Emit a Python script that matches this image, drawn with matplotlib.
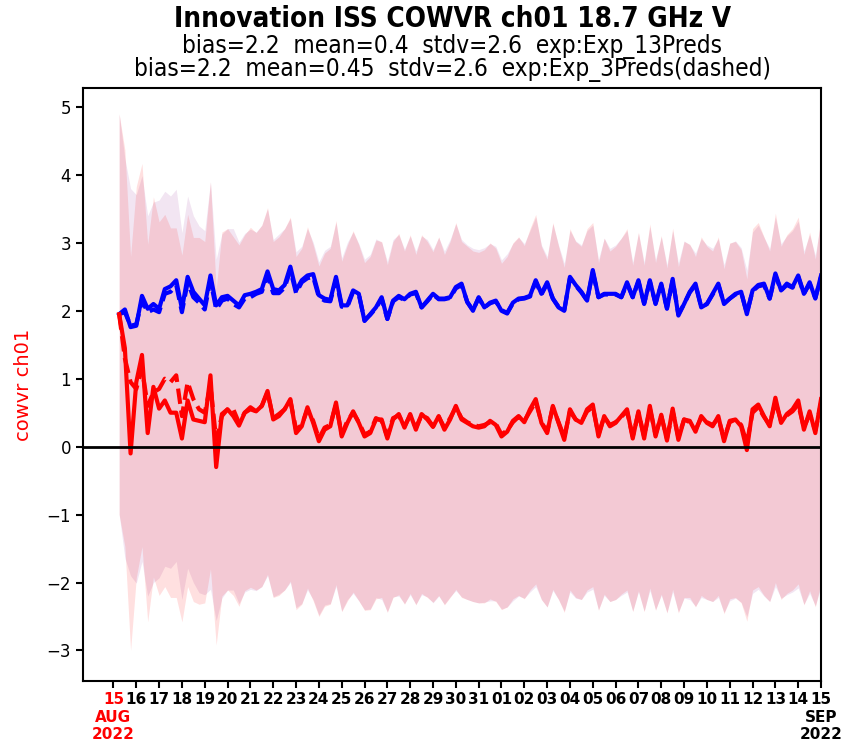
import numpy as np
import pandas as pd
import matplotlib
matplotlib.use('Agg')
import matplotlib.pyplot as plt

# 6-hourly innovation statistics, 15 Aug 06Z -> 15 Sep 00Z
times = pd.date_range('2022-08-15 06:00', '2022-09-15 00:00', freq='6h')

# bias (no bias correction), exp 13Preds
bias_13 = [1.95, 2.02, 1.76, 1.78, 2.22, 2.03, 2.10, 2.03, 2.32, 2.36,
           2.45, 2.03, 2.50, 2.28, 2.18, 2.08, 2.52, 2.08, 2.20, 2.22,
           2.15, 2.08, 2.23, 2.25, 2.28, 2.32, 2.58, 2.32, 2.30, 2.38,
           2.65, 2.30, 2.45, 2.52, 2.54, 2.23, 2.18, 2.16, 2.50, 2.08,
           2.08, 2.30, 2.25, 1.85, 1.95, 2.05, 2.20, 1.88, 2.15, 2.22,
           2.17, 2.25, 2.28, 2.05, 2.15, 2.25, 2.18, 2.18, 2.20, 2.35,
           2.40, 2.13, 2.00, 2.20, 2.05, 2.12, 2.15, 2.00, 1.96,
           2.12, 2.18, 2.19, 2.22, 2.45, 2.25, 2.42, 2.18, 2.05, 2.00,
           2.50, 2.38, 2.28, 2.15, 2.60, 2.20, 2.25, 2.25, 2.25, 2.20,
           2.42, 2.20, 2.45, 2.10, 2.45, 2.10, 2.40, 2.03, 2.47, 1.93,
           2.10, 2.28, 2.40, 2.05, 2.10, 2.25, 2.40, 2.10, 2.18, 2.25,
           2.28, 1.95, 2.30, 2.38, 2.40, 2.18, 2.55, 2.30, 2.40, 2.35,
           2.52, 2.25, 2.42, 2.18, 2.52]

# bias, exp 3Preds
bias_3 = [1.95, 1.98, 1.78, 1.80, 2.15, 1.98, 2.02, 1.98, 2.25, 2.28,
          2.38, 1.98, 2.42, 2.20, 2.12, 2.02, 2.45, 2.02, 2.15, 2.18,
          2.10, 2.05, 2.18, 2.20, 2.25, 2.28, 2.52, 2.26, 2.26, 2.34,
          2.60, 2.26, 2.42, 2.48, 2.50, 2.20, 2.15, 2.14, 2.46, 2.06,
          2.06, 2.28, 2.24, 1.86, 1.94, 2.04, 2.18, 1.88, 2.14, 2.20,
          2.16, 2.24, 2.26, 2.05, 2.14, 2.24, 2.17, 2.17, 2.19, 2.33,
          2.38, 2.13, 2.01, 2.19, 2.05, 2.11, 2.14, 2.01, 1.97,
          2.11, 2.17, 2.18, 2.21, 2.43, 2.24, 2.40, 2.18, 2.06, 2.01,
          2.48, 2.37, 2.27, 2.15, 2.57, 2.20, 2.24, 2.24, 2.24, 2.20,
          2.40, 2.20, 2.43, 2.11, 2.43, 2.11, 2.38, 2.04, 2.45, 1.95,
          2.10, 2.27, 2.38, 2.06, 2.10, 2.24, 2.38, 2.11, 2.18, 2.24,
          2.27, 1.97, 2.29, 2.36, 2.38, 2.18, 2.52, 2.30, 2.38, 2.34,
          2.50, 2.25, 2.40, 2.19, 2.50]

# mean (after bias correction), exp 13Preds
mean_13 = [1.95, 1.45, -0.10, 0.95, 1.35, 0.20, 0.88, 0.56, 0.68, 0.50,
           0.50, 0.12, 0.68, 0.40, 0.38, 0.36, 1.05, -0.30, 0.48, 0.55,
           0.45, 0.31, 0.50, 0.58, 0.52, 0.60, 0.82, 0.40, 0.45, 0.55,
           0.70, 0.20, 0.30, 0.58, 0.35, 0.08, 0.25, 0.30, 0.65, 0.15,
           0.35, 0.52, 0.35, 0.15, 0.20, 0.40, 0.40, 0.12, 0.40, 0.48,
           0.28, 0.48, 0.25, 0.48, 0.40, 0.29, 0.45, 0.25, 0.40, 0.60,
           0.40, 0.35, 0.30, 0.28, 0.30, 0.38, 0.32, 0.15, 0.22,
           0.38, 0.45, 0.36, 0.55, 0.70, 0.35, 0.20, 0.60, 0.35, 0.10,
           0.55, 0.40, 0.35, 0.55, 0.62, 0.15, 0.45, 0.30, 0.35, 0.45,
           0.55, 0.12, 0.52, 0.12, 0.60, 0.15, 0.47, 0.09, 0.56, 0.10,
           0.40, 0.38, 0.22, 0.45, 0.35, 0.30, 0.45, 0.08, 0.38, 0.40,
           0.30, -0.05, 0.55, 0.62, 0.45, 0.30, 0.72, 0.35, 0.48, 0.55,
           0.68, 0.25, 0.52, 0.20, 0.70]

# mean, exp 3Preds
mean_3 = [1.95, 1.30, 0.95, 0.85, 1.15, 0.60, 0.80, 0.85, 1.00, 0.95,
          1.05, 0.45, 0.95, 0.70, 0.55, 0.50, 0.90, 0.10, 0.45, 0.55,
          0.55, 0.35, 0.50, 0.55, 0.52, 0.60, 0.80, 0.42, 0.48, 0.55,
          0.68, 0.25, 0.32, 0.55, 0.38, 0.12, 0.28, 0.32, 0.62, 0.18,
          0.38, 0.50, 0.36, 0.18, 0.22, 0.42, 0.38, 0.15, 0.42, 0.46,
          0.30, 0.46, 0.28, 0.46, 0.42, 0.30, 0.44, 0.28, 0.42, 0.58,
          0.42, 0.36, 0.32, 0.30, 0.32, 0.36, 0.34, 0.18, 0.24,
          0.36, 0.44, 0.38, 0.52, 0.66, 0.36, 0.22, 0.58, 0.36, 0.14,
          0.52, 0.40, 0.36, 0.52, 0.58, 0.18, 0.44, 0.32, 0.36, 0.44,
          0.52, 0.15, 0.50, 0.15, 0.56, 0.18, 0.45, 0.12, 0.52, 0.14,
          0.40, 0.36, 0.25, 0.42, 0.36, 0.32, 0.42, 0.12, 0.36, 0.40,
          0.32, 0.05, 0.50, 0.58, 0.44, 0.32, 0.66, 0.38, 0.46, 0.52,
          0.62, 0.28, 0.48, 0.24, 0.64]

# standard deviation of the innovations
stdv_13 = [2.95, 2.92, 2.90, 2.88, 2.82, 2.78, 2.80, 2.75, 2.74, 2.72,
           2.72, 2.70, 2.74, 2.68, 2.70, 2.66, 2.85, 2.62, 2.68, 2.66,
           2.64, 2.66, 2.62, 2.65, 2.63, 2.66, 2.70, 2.62, 2.64, 2.66,
           2.68, 2.60, 2.62, 2.66, 2.62, 2.58, 2.60, 2.62, 2.68, 2.58,
           2.62, 2.66, 2.62, 2.56, 2.60, 2.64, 2.62, 2.56, 2.62, 2.66,
           2.60, 2.64, 2.58, 2.64, 2.62, 2.58, 2.64, 2.58, 2.62, 2.70,
           2.62, 2.60, 2.58, 2.58, 2.60, 2.62, 2.60, 2.55, 2.58,
           2.62, 2.64, 2.60, 2.66, 2.72, 2.60, 2.56, 2.70, 2.60, 2.54,
           2.66, 2.62, 2.60, 2.66, 2.68, 2.56, 2.62, 2.58, 2.60, 2.62,
           2.66, 2.55, 2.64, 2.55, 2.68, 2.56, 2.64, 2.54, 2.66, 2.55,
           2.62, 2.60, 2.58, 2.64, 2.60, 2.58, 2.64, 2.54, 2.62, 2.62,
           2.60, 2.52, 2.66, 2.68, 2.64, 2.58, 2.72, 2.60, 2.64, 2.66,
           2.70, 2.58, 2.64, 2.56, 2.70]

stdv_3 = [2.95, 2.94, 2.85, 2.86, 2.84, 2.80, 2.80, 2.78, 2.76, 2.74,
          2.74, 2.70, 2.74, 2.70, 2.70, 2.68, 3.00, 2.66, 2.68, 2.66,
          2.66, 2.66, 2.64, 2.65, 2.64, 2.66, 2.70, 2.63, 2.65, 2.66,
          2.68, 2.62, 2.63, 2.66, 2.63, 2.60, 2.61, 2.63, 2.68, 2.60,
          2.63, 2.66, 2.63, 2.58, 2.61, 2.64, 2.63, 2.58, 2.63, 2.66,
          2.61, 2.64, 2.60, 2.64, 2.63, 2.60, 2.64, 2.60, 2.63, 2.70,
          2.63, 2.61, 2.60, 2.60, 2.61, 2.63, 2.61, 2.57, 2.60,
          2.63, 2.64, 2.61, 2.66, 2.72, 2.61, 2.58, 2.70, 2.61, 2.56,
          2.66, 2.63, 2.61, 2.66, 2.68, 2.58, 2.63, 2.60, 2.61, 2.63,
          2.66, 2.57, 2.64, 2.57, 2.68, 2.58, 2.64, 2.56, 2.66, 2.57,
          2.63, 2.61, 2.60, 2.64, 2.61, 2.60, 2.64, 2.56, 2.63, 2.63,
          2.61, 2.55, 2.66, 2.68, 2.64, 2.60, 2.72, 2.61, 2.64, 2.66,
          2.70, 2.60, 2.64, 2.58, 2.70]

title = 'Innovation ISS COWVR ch01 18.7 GHz V'
line_13 = 'bias=2.2  mean=0.4  stdv=2.6  exp:Exp_13Preds'
line_3 = 'bias=2.2  mean=0.45  stdv=2.6  exp:Exp_3Preds(dashed)'

bias_13 = np.array(bias_13)
bias_3 = np.array(bias_3)
mean_13 = np.array(mean_13)
mean_3 = np.array(mean_3)
stdv_13 = np.array(stdv_13)
stdv_3 = np.array(stdv_3)

fig = plt.figure(figsize=(8.42, 7.42), dpi=100)
ax = fig.add_axes([0.0986, 0.0822, 0.8765, 0.7992])

# spread of each experiment around its mean
ax.fill_between(times, mean_3 - stdv_3, mean_3 + stdv_3, color='purple', alpha=0.1, lw=0)
ax.fill_between(times, mean_13 - stdv_13, mean_13 + stdv_13, color='red', alpha=0.12, lw=0)

ax.plot(times, bias_13, color='blue', lw=3)
ax.plot(times, bias_3, color='blue', lw=3, ls='--')
ax.plot(times, mean_13, color='red', lw=3)
ax.plot(times, mean_3, color='red', lw=3, ls='--')
ax.axhline(0, color='black', lw=2)

start = pd.Timestamp('2022-08-15')
end = pd.Timestamp('2022-09-15')
ax.set_xlim(start - pd.Timedelta(hours=32), end)
ax.set_ylim(-3.45, 5.28)

days = pd.date_range(start, end, freq='D')
labels = [d.strftime('%d') for d in days]
labels[0] = '15\nAUG\n2022'
labels[-1] = '15\nSEP\n2022'
ax.set_xticks(days)
ax.set_xticklabels(labels, fontsize=11, fontweight='bold', va='top')
ax.get_xticklabels()[0].set_color('red')
ax.set_yticks(range(-3, 6))
ax.tick_params(axis='y', labelsize=12, width=1.5, length=5)
ax.tick_params(axis='x', width=1.5, length=5, pad=3)
for s in ax.spines.values():
    s.set_linewidth(1.5)

ax.set_ylabel('cowvr ch01', color='red', fontsize=14, labelpad=10)

fig.text(0.537, 0.974, title, ha='center', va='center', fontsize=20, fontweight='bold', stretch='condensed')
fig.text(0.537, 0.938, line_13, ha='center', va='center', fontsize=17.5, stretch='condensed')
fig.text(0.537, 0.906, line_3, ha='center', va='center', fontsize=17.5, stretch='condensed')

fig.savefig('out.png', dpi=100)
